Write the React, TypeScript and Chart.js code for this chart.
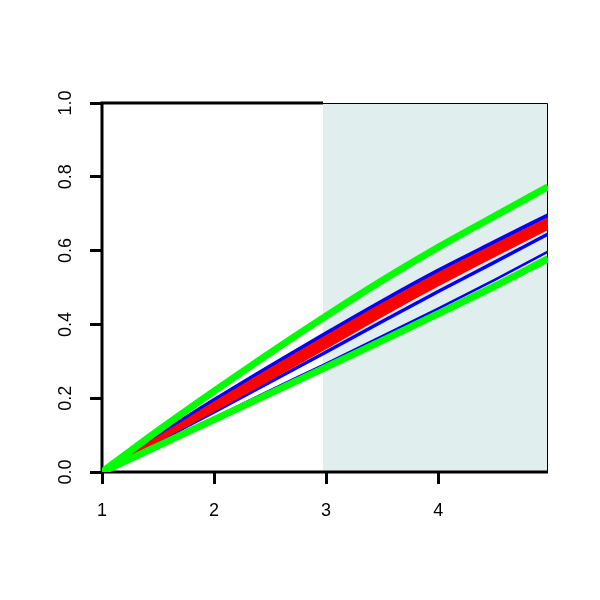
import React, { useEffect, useRef } from "react";
import { Chart, registerables } from "chart.js";

Chart.register(...registerables);

// x positions of the sampled values
const xValues = [1, 1.5, 2, 2.5, 3, 3.5, 4, 4.5, 4.98];

// series values
const greenUpper = [0, 0.112, 0.219, 0.323, 0.423, 0.519, 0.609, 0.693, 0.773];
const greenLower = [0, 0.071, 0.142, 0.213, 0.284, 0.356, 0.429, 0.503, 0.578];
const redUpper = [0, 0.095, 0.189, 0.28, 0.369, 0.456, 0.539, 0.616, 0.688];
const redLower = [0, 0.083, 0.165, 0.25, 0.335, 0.422, 0.505, 0.584, 0.658];
const blue1 = [0, 0.099, 0.195, 0.287, 0.376, 0.463, 0.546, 0.623, 0.696];
const blue2 = [0, 0.082, 0.163, 0.244, 0.325, 0.408, 0.489, 0.568, 0.645];
const blue3 = [0, 0.074, 0.147, 0.221, 0.294, 0.368, 0.443, 0.52, 0.597];

// axes
const xMin = 1;
const xMax = 4.98;
const xTicks = [1, 2, 3, 4];
const yTicks = [0, 0.2, 0.4, 0.6, 0.8, 1.0];
const shadeStart = 2.97;

const pts = (ys: number[]) => xValues.map((x, i) => ({ x, y: ys[i] }));

const FONT = "Liberation Sans, Arial, Helvetica, sans-serif";
Chart.defaults.font.family = FONT;
Chart.defaults.font.size = 18;
Chart.defaults.color = "#000";

const boxPlugin = {
  id: "boxPlugin",
  beforeDatasetsDraw(chart: any) {
    const { ctx, chartArea, scales } = chart;
    const { left, right, top, bottom } = chartArea;
    const xs = Math.round(scales.x.getPixelForValue(shadeStart));
    ctx.save();
    ctx.fillStyle = "#E0EEEE";
    ctx.fillRect(xs, top, right - xs, bottom - top);
    ctx.strokeStyle = "#000";
    ctx.lineWidth = 1;
    ctx.beginPath();
    ctx.moveTo(xs, top + 0.5);
    ctx.lineTo(right - 0.5, top + 0.5);
    ctx.lineTo(right - 0.5, bottom);
    ctx.stroke();
    ctx.lineWidth = 3;
    ctx.beginPath();
    ctx.moveTo(xs, top);
    ctx.lineTo(left, top);
    ctx.lineTo(left, bottom);
    ctx.lineTo(right, bottom);
    ctx.stroke();
    ctx.restore();
  },
};

export default function App() {
  const ref = useRef<HTMLCanvasElement | null>(null);

  useEffect(() => {
    if (!ref.current) return;
    const line = (data: number[], color: string, width: number, extra: any = {}) => ({
      data: pts(data),
      borderColor: color,
      backgroundColor: color,
      borderWidth: width,
      pointRadius: 0,
      cubicInterpolationMode: "monotone",
      fill: false,
      ...extra,
    });
    const tickFont = { family: FONT, size: 18 };
    const chart = new Chart(ref.current, {
      type: "line",
      data: {
        datasets: [
          line(greenUpper, "#00FF00", 7),
          line(greenLower, "#00FF00", 7),
          line(redUpper, "#FF0000", 1.5, { fill: "+1" }),
          line(redLower, "#FF0000", 1.5),
          line(blue1, "#0000FF", 4),
          line(blue2, "#0000FF", 3.5),
          line(blue3, "#0000FF", 2.5),
        ] as any,
      },
      options: {
        animation: false,
        responsive: false,
        devicePixelRatio: 1,
        layout: { padding: { top: 103, right: 52, left: 0, bottom: 0 } },
        plugins: { legend: { display: false }, tooltip: { enabled: false } },
        scales: {
          x: {
            type: "linear",
            min: xMin,
            max: xMax,
            afterBuildTicks: (s: any) => {
              s.ticks = xTicks.map((v) => ({ value: v }));
            },
            afterFit: (s: any) => {
              s.height = 128;
            },
            border: { display: false },
            grid: {
              drawOnChartArea: false,
              drawTicks: true,
              tickLength: 12,
              tickWidth: 3,
              tickColor: "#000",
            },
            ticks: {
              color: "#000",
              font: tickFont,
              padding: 16,
              maxRotation: 0,
              minRotation: 0,
              callback: (v: any) => String(v),
            },
          },
          y: {
            type: "linear",
            min: 0,
            max: 1,
            afterBuildTicks: (s: any) => {
              s.ticks = yTicks.map((v) => ({ value: v }));
            },
            afterFit: (s: any) => {
              s.width = 102;
            },
            border: { display: false },
            grid: {
              drawOnChartArea: false,
              drawTicks: true,
              tickLength: 12,
              tickWidth: 3,
              tickColor: "#000",
            },
            ticks: {
              color: "#000",
              font: tickFont,
              padding: 11,
              minRotation: 90,
              maxRotation: 90,
              crossAlign: "center",
              callback: (v: any) => Number(v).toFixed(1),
            },
          },
        },
      } as any,
      plugins: [boxPlugin],
    });
    return () => chart.destroy();
  }, []);

  return (
    <div style={{ position: "absolute", left: 0, top: 0, width: 600, height: 600, background: "#fff" }}>
      <canvas ref={ref} width={600} height={600} />
    </div>
  );
}
